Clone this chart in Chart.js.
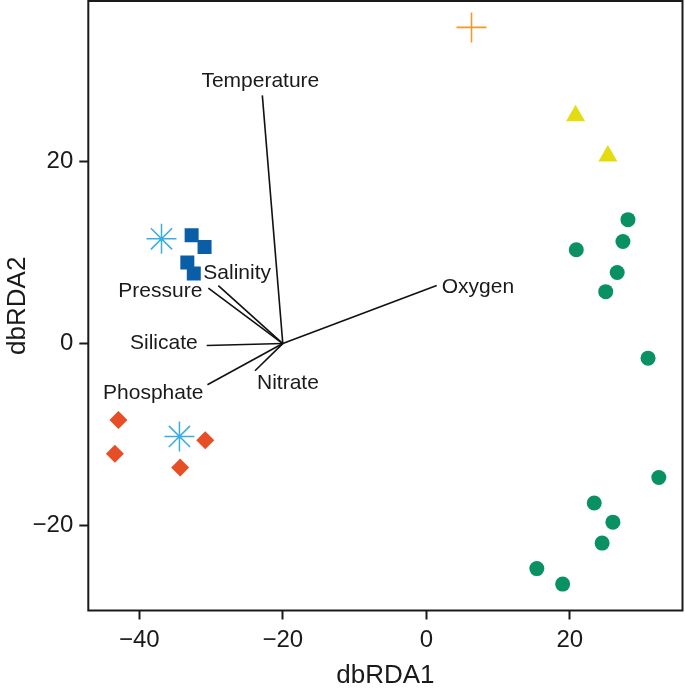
<!DOCTYPE html>
<html><head><meta charset="utf-8">
<script src="https://cdn.jsdelivr.net/npm/chart.js@4"></script>
<style>html,body{margin:0;padding:0;background:#fff}#wrap{width:685px;height:691px;position:relative}</style>
</head><body><div id="wrap"><canvas id="c"></canvas></div>
<script>
// ---- data ----
const xTicks = [-40, -20, 0, 20];
const xTickLabels = ['−40', '−20', '0', '20'];
const yTicks = [-20, 0, 20];
const yTickLabels = ['−20', '0', '20'];

const greenX = [28.1, 27.4, 20.9, 26.6, 25.0, 30.9, 32.4, 23.4, 26.0, 24.5, 15.4, 19.0];
const greenY = [13.6, 11.2, 10.3, 7.8, 5.7, -1.6, -14.7, -17.5, -19.6, -21.9, -24.7, -26.4];
const yellowX = [20.8, 25.3];
const yellowY = [25.0, 20.6];
const orangeX = [6.3];
const orangeY = [34.7];
const blueX = [-32.7, -30.9, -33.3, -32.4];
const blueY = [11.9, 10.6, 8.9, 7.7];
const starX = [-36.9, -34.4];
const starY = [11.5, -10.2];
const redX = [-42.9, -43.4, -30.8, -34.3];
const redY = [-8.4, -12.1, -10.6, -13.6];

const vectorNames = ['Temperature', 'Salinity', 'Pressure', 'Silicate', 'Phosphate', 'Nitrate', 'Oxygen'];
const vectorX = [-22.85, -28.98, -30.37, -30.6, -30.5, -23.87, 1.45];
const vectorY = [27.24, 6.35, 6.09, -0.21, -4.52, -2.99, 6.38];
const originX = -20.0;
const originY = 0;

// ---- label styling (pixel offsets from the arrow tip) ----
const labelStyle = {
  Temperature: {align: 'center', dx: -2, dy: -14},
  Salinity: {align: 'left', dx: -15, dy: -13},
  Pressure: {align: 'right', dx: -6, dy: 3},
  Silicate: {align: 'right', dx: -9, dy: -2},
  Phosphate: {align: 'right', dx: -4, dy: 8},
  Nitrate: {align: 'left', dx: 2, dy: 12},
  Oxygen: {align: 'left', dx: 5, dy: 2}
};

const INK = '#1a1a1a';
const FONT = "'Liberation Sans', Arial, Helvetica, sans-serif";

const pts = (xs, ys) => xs.map((x, i) => ({x: x, y: ys[i]}));

const datasets = [
  {label: 'green', data: pts(greenX, greenY), pointStyle: 'circle', pointRadius: 7.5, backgroundColor: '#0a9163', borderColor: '#0a9163', borderWidth: 0},
  {label: 'yellow', data: pts(yellowX, yellowY), pointStyle: 'triangle', pointRadius: 11, backgroundColor: '#e3dc12', borderColor: '#e3dc12', borderWidth: 0},
  {label: 'orange', data: pts(orangeX, orangeY), pointStyle: 'cross', pointRadius: 15, backgroundColor: '#f09a2a', borderColor: '#f09a2a', borderWidth: 1.6},
  {label: 'blue', data: pts(blueX, blueY), pointStyle: 'rect', pointRadius: 9.9, backgroundColor: '#0a5ea8', borderColor: '#0a5ea8', borderWidth: 0},
  {label: 'star', data: pts(starX, starY), pointStyle: 'star', pointRadius: 15, backgroundColor: '#3aade0', borderColor: '#3aade0', borderWidth: 1.5},
  {label: 'red', data: pts(redX, redY), pointStyle: 'rectRot', pointRadius: 9, backgroundColor: '#e84e26', borderColor: '#e84e26', borderWidth: 0}
];
vectorNames.forEach((n, i) => {
  datasets.push({
    type: 'line', label: n,
    data: [{x: originX, y: originY}, {x: vectorX[i], y: vectorY[i]}],
    borderColor: '#111', borderWidth: 1.6, pointRadius: 0, fill: false, tension: 0
  });
});

const boxAndLabels = {
  id: 'boxAndLabels',
  afterDatasetsDraw(chart) {
    const ctx = chart.ctx;
    const xs = chart.scales.x, ys = chart.scales.y;
    ctx.save();
    ctx.font = '21px ' + FONT;
    ctx.fillStyle = INK;
    ctx.textBaseline = 'middle';
    vectorNames.forEach((n, i) => {
      const st = labelStyle[n];
      const px = xs.getPixelForValue(vectorX[i]) + st.dx;
      const py = ys.getPixelForValue(vectorY[i]) + st.dy;
      ctx.textAlign = st.align;
      ctx.fillText(n, px, py);
    });
    const a = chart.chartArea;
    ctx.strokeStyle = INK;
    ctx.lineWidth = 2;
    ctx.strokeRect(a.left, a.top, a.right - a.left, a.bottom - a.top);
    ctx.restore();
  }
};

const noPad = s => { s.paddingTop = 0; s.paddingBottom = 0; s.paddingLeft = 0; s.paddingRight = 0; };

new Chart(document.getElementById('c'), {
  type: 'scatter',
  data: {datasets: datasets},
  options: {
    responsive: true,
    maintainAspectRatio: false,
    animation: false,
    events: [],
    layout: {autoPadding: false, padding: {left: 0, top: 1, right: 2.5, bottom: 0}},
    plugins: {legend: {display: false}, tooltip: {enabled: false}},
    scales: {
      x: {
        type: 'linear', min: -47.1, max: 35.7,
        afterBuildTicks: s => { s.ticks = xTicks.map(v => ({value: v})); },
        afterFit: s => { s.height = 80.5; noPad(s); },
        ticks: {callback: v => xTickLabels[xTicks.indexOf(v)], font: {family: FONT, size: 24}, color: INK, padding: 6, maxRotation: 0, autoSkip: false},
        grid: {display: true, drawOnChartArea: false, drawTicks: true, tickLength: 9, tickWidth: 2, tickColor: INK},
        border: {display: false},
        title: {display: true, text: 'dbRDA1', font: {family: FONT, size: 26}, color: INK, padding: {top: 0, bottom: 0}}
      },
      y: {
        type: 'linear', min: -29.3, max: 37.6,
        afterBuildTicks: s => { s.ticks = yTicks.map(v => ({value: v})); },
        afterFit: s => { s.width = 88.3; noPad(s); },
        ticks: {callback: v => yTickLabels[yTicks.indexOf(v)], font: {family: FONT, size: 24}, color: INK, padding: 6, autoSkip: false},
        grid: {display: true, drawOnChartArea: false, drawTicks: true, tickLength: 9, tickWidth: 2, tickColor: INK},
        border: {display: false},
        title: {display: true, text: 'dbRDA2', font: {family: FONT, size: 26}, color: INK, padding: {top: 2, bottom: 0}}
      }
    }
  },
  plugins: [boxAndLabels]
});
</script>
</body></html>
